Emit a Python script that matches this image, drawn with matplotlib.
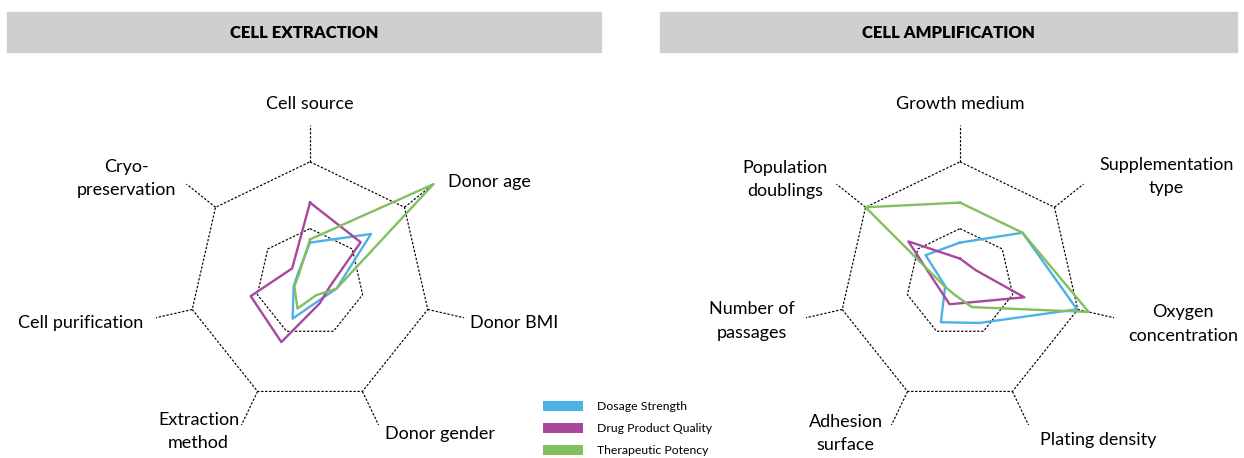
import numpy as np
import matplotlib.pyplot as plt
from matplotlib.patches import Rectangle
from matplotlib.lines import Line2D

plt.rcParams['font.family'] = ['Lato', 'DejaVu Sans']

# series shared by both panels
series = ["Dosage Strength", "Drug Product Quality", "Therapeutic Potency"]
colors = ["#4DB1E4", "#A8479E", "#82BF5E"]

# grid levels of the radar (heptagons) and end of the spokes
inner_ring = 1.35
outer_ring = 3.02
r_max = 3.95

# panel 1: cell extraction
extraction_axes = ["Cell source", "Donor age", "Donor BMI", "Donor gender",
                   "Extraction\nmethod", "Cell purification", "Cryo-\npreservation"]
extraction_dosage = [1.0, 1.95, 0.68, 0.5, 1.0, 0.42, 0.38]
extraction_quality = [2.0, 1.62, 0.5, 0.57, 1.65, 1.52, 0.57]
extraction_potency = [1.08, 3.95, 0.68, 0.35, 0.72, 0.4, 0.35]

# panel 2: cell amplification
amplification_axes = ["Growth medium", "Supplementation\ntype", "Oxygen\nconcentration",
                      "Plating density", "Adhesion\nsurface", "Number of\npassages",
                      "Population\ndoublings"]
amplification_dosage = [1.0, 2.0, 3.0, 1.12, 1.1, 0.38, 1.1]
amplification_quality = [0.6, 0.5, 1.65, 0.55, 0.6, 0.55, 1.65]
amplification_potency = [2.0, 2.0, 3.3, 0.68, 0.33, 0.4, 3.02]

W, H = 1244, 458
fig = plt.figure(figsize=(W / 100, H / 100), dpi=100)

dash = (0, (2, 1.4))


def radar(cx, title, bar, labels, values, label_pos):
    size = 2 * 158
    cy = 282.6
    ax = fig.add_axes([(cx - size / 2) / W, 1 - (cy + size / 2) / H, size / W, size / H],
                      projection='polar')
    n = len(labels)
    theta = np.arange(n) * 2 * np.pi / n
    ax.set_theta_zero_location('N')
    ax.set_theta_direction(-1)
    ax.set_ylim(0, r_max)
    ax.axis('off')
    closed = np.append(theta, theta[0])
    for ring in (inner_ring, outer_ring):
        ax.plot(closed, [ring] * (n + 1), color='black', lw=0.85, ls=dash, clip_on=False)
    for t in theta:
        ax.plot([t, t], [outer_ring, r_max], color='black', lw=0.85, ls=dash, clip_on=False)
    for vals, c in zip(values, colors):
        ax.plot(closed, np.append(vals, vals[0]), color=c, lw=1.7, clip_on=False)
    for t, lab, (dx, dy, ha) in zip(theta, labels, label_pos):
        ax.annotate(lab, xy=(t, r_max), xytext=(dx, dy - 1.5), textcoords='offset pixels',
                    ha=ha, va='center', multialignment='center', fontsize=13,
                    linespacing=1.6, color='black')
    # title bar
    x0, x1 = bar
    fig.patches.append(Rectangle((x0 / W, 1 - 52 / H), (x1 - x0) / W, 40 / H,
                                 transform=fig.transFigure, color='#D0CECE', zorder=0))
    fig.text((x0 + x1) / 2 / W, 1 - 33 / H, title, ha='center', va='center',
             fontsize=12, fontweight='heavy', color='black')


radar(310, "CELL EXTRACTION", (7, 601), extraction_axes,
      [extraction_dosage, extraction_quality, extraction_potency],
      [(0, 22, 'center'), (14, 4, 'left'), (6, -4, 'left'), (6, -8, 'left'),
       (-43, -5, 'center'), (-13, -4, 'right'), (-60, 7, 'center')])
radar(960, "CELL AMPLIFICATION", (660, 1237), amplification_axes,
      [amplification_dosage, amplification_quality, amplification_potency],
      [(0, 22, 'center'), (83, 9, 'center'), (69, -5, 'center'), (11, -14, 'left'),
       (-46, -7, 'center'), (-54, -2, 'center'), (-51, 6, 'center')])

handles = [Line2D([0], [0], color=c, lw=7.2, solid_capstyle='butt') for c in colors]
fig.legend(handles, series, loc='upper left', bbox_to_anchor=(543 / W, 1 - 401 / H),
           frameon=False, fontsize=8.8, handlelength=3.3, handletextpad=1.1,
           labelspacing=0.9, borderpad=0, borderaxespad=0)

fig.savefig("out.png", dpi=100)
